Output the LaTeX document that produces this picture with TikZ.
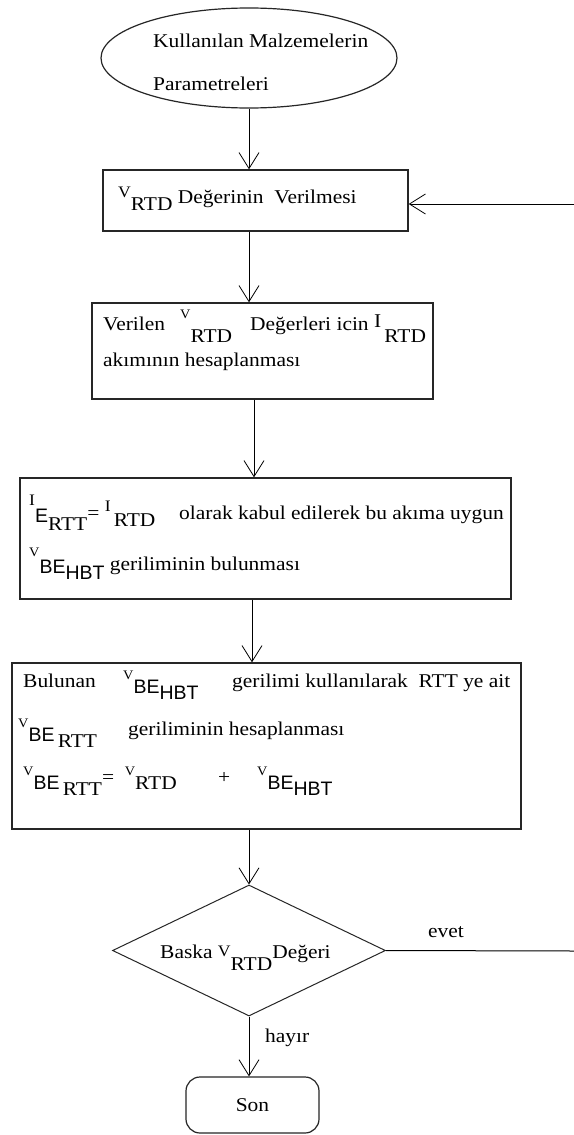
\documentclass[tikz,border=0pt]{standalone}
\usepackage{fontspec}
\setmainfont[FakeStretch=1.1]{Liberation Serif}
\setsansfont{Liberation Sans}
\usetikzlibrary{shapes.geometric,arrows.meta}
\newcommand{\up}[3][13]{\raisebox{#2}{\fontsize{#1}{#1}\selectfont #3}}
\newcommand{\dn}[2]{\raisebox{-#1}{#2}}
\begin{document}
\begin{tikzpicture}[x=1pt,y=-1pt,
  box/.style={draw=black!85, line width=1.4pt, rectangle, inner sep=0},
  txt/.style={anchor=base west, inner sep=0, font=\fontsize{19.5}{22}\selectfont},
  arr/.style={draw=black, line width=1pt, -{Straight Barb[length=16pt,width=20pt,line width=0.8pt]}},
  ln/.style={draw=black, line width=1pt}]
\fill[white] (0,0) rectangle (573,1135);
\useasboundingbox (0,0) rectangle (573,1135);
% shapes
\node[ellipse, draw=black!85, line width=1.2pt, minimum width=296pt, minimum height=100pt, inner sep=0] (e) at (249,58) {};
\node[box, minimum width=305pt, minimum height=61pt] (b1) at (255.5,200.5) {};
\node[box, minimum width=341pt, minimum height=96pt] (b2) at (262.5,351) {};
\node[box, minimum width=491pt, minimum height=121pt] (b3) at (265.5,538.5) {};
\node[box, minimum width=509pt, minimum height=166pt] (b4) at (266.5,746) {};
\node[diamond, draw=black!85, line width=1pt, minimum width=273pt, minimum height=131pt, inner sep=0, aspect=2.08] (d) at (249,950.5) {};
\node[rectangle, rounded corners=14pt, draw=black!85, line width=1.2pt, minimum width=133pt, minimum height=56pt, font=\fontsize{19.5}{22}\selectfont] (s) at (252.5,1105) {Son};
% texts
\node[txt] (t1) at (153,47) {Kullanılan Malzemelerin};
\node[txt] (t2) at (153,90) {Parametreleri};
\node[txt] (t3) at (118,203) {\up[16]{6pt}{V}\dn{7pt}{RTD} Değerinin\ \ Verilmesi};
\node[txt] (t4) at (103,330) {Verilen};
\node[txt] (t5) at (180,330) {\up{12pt}{V}\dn{12pt}{RTD}};
\node[txt] (t6) at (250,330) {Değerleri icin \up[19.5]{3pt}{I}\,\dn{12pt}{RTD}};
\node[txt] (t7) at (103,366) {akımının hesaplanması};
\node[txt] (t8) at (29,519) {\up[16]{14pt}{I}\dn{3pt}{\sffamily E}\dn{11pt}{RTT}= \up[16]{8pt}{I}\,\dn{7pt}{RTD}};
\node[txt] (t9) at (179,519) {olarak kabul edilerek bu akıma uygun};
\node[txt] (t10) at (29,570) {\up{14pt}{V}\dn{3pt}{\sffamily BE}\dn{9pt}{\sffamily HBT} geriliminin bulunması};
\node[txt] (t11) at (23,687) {Bulunan};
\node[txt] (t12) at (123,687) {\up{8pt}{V}\dn{6pt}{\sffamily BE}\dn{12pt}{\sffamily HBT}};
\node[txt] (t13) at (232,687) {gerilimi kullanılarak\ \ RTT ye ait};
\node[txt] (t14) at (18,735) {\up{8pt}{V}\dn{6pt}{\sffamily BE}\,\dn{12pt}{RTT}};
\node[txt] (t15) at (128,735) {geriliminin hesaplanması};
\node[txt] (t16) at (23,783) {\up{8pt}{V}\dn{6pt}{\sffamily BE}\,\dn{12pt}{RTT}= \ \up{8pt}{V}\dn{6pt}{RTD}};
\node[txt] (t17) at (218,783) {+};
\node[txt] (t18) at (257,783) {\up{8pt}{V}\dn{6pt}{\sffamily BE}\dn{12pt}{\sffamily HBT}};
\node[txt] (t19) at (160,958) {Baska \up[16]{2pt}{V}\dn{12pt}{RTD}Değeri};
\node[txt] (evet) at (428,937) {evet};
\node[txt] (hayir) at (265,1042) {hayır};
% connectors
\coordinate (c1) at (249,0);
\coordinate (c2) at (254,0);
\coordinate (c3) at (252,0);
\coordinate (r1) at (574,204);
\coordinate (r2) at (574,951);
\draw[arr] (e.south) -- (e.south |- b1.north);
\draw[arr] (b1.south -| c1) -- (b2.north -| c1);
\draw[arr] (b2.south -| c2) -- (b3.north -| c2);
\draw[arr] (b3.south -| c3) -- (b4.north -| c3);
\draw[arr] (b4.south -| d.north) -- (d.north);
\draw[arr] (d.south) -- (s.north -| d.south);
\draw[ln] (d.east) -- (r2);
\draw[arr] (r1) -- (r1 -| b1.east);
\end{tikzpicture}
\end{document}
